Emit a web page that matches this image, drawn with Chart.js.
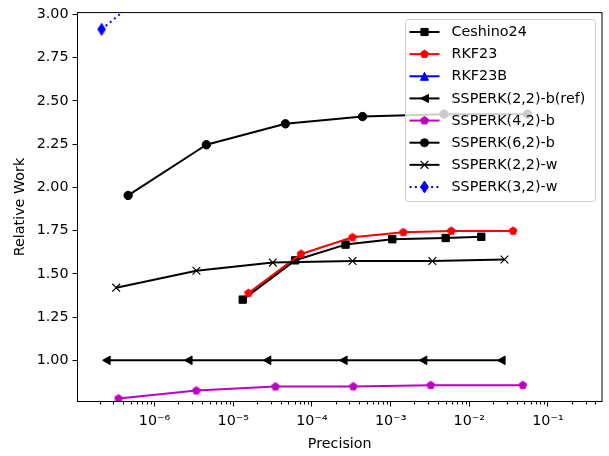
<!DOCTYPE html>
<html>
<head>
<meta charset="utf-8">
<script src="https://cdn.jsdelivr.net/npm/chart.js@4/dist/chart.umd.min.js"></script>
<style>
  html, body { margin: 0; padding: 0; background: #fff; }
  #wrap { width: 609px; height: 456px; position: relative; }
</style>
</head>
<body>
<div id="wrap"><canvas id="c" width="609" height="456"></canvas></div>
<script>
// Precision (x) against relative work (y) for each integrator
const ceshinoPrec = [1.32e-5, 6.11e-5, 2.67e-4, 1.05e-3, 5.01e-3, 1.42e-2];
const ceshinoWork = [1.351, 1.578, 1.669, 1.700, 1.707, 1.714];

const rkf23Prec = [1.56e-5, 7.28e-5, 3.28e-4, 1.45e-3, 5.90e-3, 3.60e-2];
const rkf23Work = [1.389, 1.615, 1.711, 1.740, 1.748, 1.748];

const rkf23bPrec = [];
const rkf23bWork = [];

const ssp22bPrec = [2.53e-7, 2.78e-6, 2.79e-5, 2.60e-4, 2.68e-3, 2.65e-2];
const ssp22bWork = [1.0, 1.0, 1.0, 1.0, 1.0, 1.0];

const ssp42bPrec = [3.48e-7, 3.40e-6, 3.44e-5, 3.35e-4, 3.24e-3, 4.78e-2];
const ssp42bWork = [0.779, 0.825, 0.848, 0.849, 0.856, 0.856];

const ssp62bPrec = [4.61e-7, 4.55e-6, 4.60e-5, 4.40e-4, 4.76e-3, 5.48e-2];
const ssp62bWork = [1.953, 2.246, 2.367, 2.409, 2.423, 2.423];

const ssp22wPrec = [3.25e-7, 3.40e-6, 3.18e-5, 3.28e-4, 3.39e-3, 2.80e-2];
const ssp22wWork = [1.420, 1.518, 1.565, 1.574, 1.574, 1.583];

const ssp32wPrec = [2.12e-7, 2.10e-6];
const ssp32wWork = [2.913, 3.290];

// Axis ticks
const xTickValues = [1e-6, 1e-5, 1e-4, 1e-3, 1e-2, 1e-1];
const xTickLabels = ['10\u207B\u2076', '10\u207B\u2075', '10\u207B\u2074', '10\u207B\u00B3', '10\u207B\u00B2', '10\u207B\u00B9'];
const yTickValues = [1.00, 1.25, 1.50, 1.75, 2.00, 2.25, 2.50, 2.75, 3.00];
const xMin = 1.047e-7, xMax = 0.486;
const yMin = 0.762, yMax = 3.01;

const FONT = 'DejaVu Sans';
const FSIZE = 14.3;

// Marker shapes shared by the plot points and the legend
function drawMarker(g, shape, x, y, color) {
  g.save();
  g.fillStyle = color;
  g.strokeStyle = color;
  g.lineWidth = 1;
  g.lineJoin = 'miter';
  g.beginPath();
  if (shape === 'square') {
    g.rect(x - 3.6, y - 3.6, 7.2, 7.2);
  } else if (shape === 'pentagon') {
    for (let k = 0; k < 5; k++) {
      const a = -Math.PI / 2 + k * 2 * Math.PI / 5;
      const px = x + 4.1 * Math.cos(a), py = y + 4.1 * Math.sin(a);
      k ? g.lineTo(px, py) : g.moveTo(px, py);
    }
    g.closePath();
  } else if (shape === 'triUp') {
    g.moveTo(x, y - 4); g.lineTo(x - 4, y + 4); g.lineTo(x + 4, y + 4); g.closePath();
  } else if (shape === 'triLeft') {
    g.moveTo(x - 4, y); g.lineTo(x + 4, y - 4); g.lineTo(x + 4, y + 4); g.closePath();
  } else if (shape === 'circle') {
    g.arc(x, y, 4, 0, Math.PI * 2);
  } else if (shape === 'x') {
    g.lineWidth = 1.2;
    g.moveTo(x - 3.9, y - 3.9); g.lineTo(x + 3.9, y + 3.9);
    g.moveTo(x - 3.9, y + 3.9); g.lineTo(x + 3.9, y - 3.9);
    g.stroke();
    g.restore();
    return;
  } else if (shape === 'thinDiamond') {
    g.moveTo(x, y - 6); g.lineTo(x + 3.8, y); g.lineTo(x, y + 6); g.lineTo(x - 3.8, y); g.closePath();
  }
  g.fill();
  g.stroke();
  g.restore();
}

function markerCanvas(shape, color) {
  const c = document.createElement('canvas');
  c.width = 16; c.height = 16;
  drawMarker(c.getContext('2d'), shape, 8, 8, color);
  return c;
}

const series = [
  { label: 'Ceshino24', xs: ceshinoPrec, ys: ceshinoWork, color: '#000000', marker: 'square',
    pointStyle: 'rect', radius: 5.2 },
  { label: 'RKF23', xs: rkf23Prec, ys: rkf23Work, color: '#ff0000', marker: 'pentagon',
    pointStyle: markerCanvas('pentagon', '#ff0000'), radius: 5 },
  { label: 'RKF23B', xs: rkf23bPrec, ys: rkf23bWork, color: '#0000ff', marker: 'triUp',
    pointStyle: markerCanvas('triUp', '#0000ff'), radius: 5 },
  { label: 'SSPERK(2,2)-b(ref)', xs: ssp22bPrec, ys: ssp22bWork, color: '#000000', marker: 'triLeft',
    pointStyle: 'triangle', rotation: 270, radius: 5 },
  { label: 'SSPERK(4,2)-b', xs: ssp42bPrec, ys: ssp42bWork, color: '#bf00bf', marker: 'pentagon',
    pointStyle: markerCanvas('pentagon', '#bf00bf'), radius: 5 },
  { label: 'SSPERK(6,2)-b', xs: ssp62bPrec, ys: ssp62bWork, color: '#000000', marker: 'circle',
    pointStyle: 'circle', radius: 4.2 },
  { label: 'SSPERK(2,2)-w', xs: ssp22wPrec, ys: ssp22wWork, color: '#000000', marker: 'x',
    pointStyle: 'crossRot', radius: 5.5, pbw: 1.2 },
  { label: 'SSPERK(3,2)-w', xs: ssp32wPrec, ys: ssp32wWork, color: '#0000ff', marker: 'thinDiamond',
    pointStyle: markerCanvas('thinDiamond', '#0000ff'), radius: 6, dash: [2, 3.4] }
];

const datasets = series.map((s, i) => ({
  label: s.label,
  data: s.xs.map((x, j) => ({ x: x, y: s.ys[j] })),
  borderColor: s.color,
  backgroundColor: s.color,
  borderWidth: 2,
  borderDash: s.dash || [],
  borderJoinStyle: 'round',
  pointStyle: s.pointStyle,
  pointRotation: s.rotation || 0,
  pointRadius: s.radius,
  pointBackgroundColor: s.color,
  pointBorderColor: s.color,
  pointBorderWidth: s.pbw || 1,
  pointHoverRadius: s.radius,
  fill: false,
  tension: 0,
  clip: 0,
  order: series.length - i
}));

// Axes frame and minor log ticks
const framePlugin = {
  id: 'frame',
  afterDatasetsDraw(chart) {
    const { ctx, chartArea: a, scales: { x } } = chart;
    ctx.save();
    ctx.strokeStyle = '#000';
    ctx.lineWidth = 1;
    ctx.beginPath();
    for (let e = -8; e <= 0; e++) {
      for (let m = 2; m <= 9; m++) {
        const v = m * Math.pow(10, e);
        if (v < x.min || v > x.max) continue;
        const px = Math.round(x.getPixelForValue(v)) + 0.5;
        ctx.moveTo(px, a.bottom);
        ctx.lineTo(px, a.bottom + 3);
      }
    }
    ctx.stroke();
    ctx.strokeRect(a.left, a.top, a.right - a.left, a.bottom - a.top);
    ctx.restore();
  }
};

// Legend box in the upper right of the plot area
const legendPlugin = {
  id: 'boxLegend',
  afterDraw(chart) {
    const { ctx, chartArea: a } = chart;
    const w = 190, h = 182;
    const left = Math.round(a.right - 7 - w) + 0.5;
    const top = Math.round(a.top + 6) + 0.5;
    ctx.save();
    ctx.beginPath();
    ctx.roundRect(left, top, w, h, 3);
    ctx.fillStyle = 'rgba(255,255,255,0.8)';
    ctx.fill();
    ctx.strokeStyle = '#cccccc';
    ctx.lineWidth = 1;
    ctx.stroke();
    ctx.font = FSIZE + 'px "' + FONT + '"';
    ctx.textBaseline = 'middle';
    ctx.textAlign = 'left';
    series.forEach((s, i) => {
      const cy = top + 12.5 + i * 22.14;
      ctx.save();
      ctx.strokeStyle = s.color;
      ctx.lineWidth = 2;
      ctx.setLineDash(s.dash || []);
      ctx.beginPath();
      ctx.moveTo(left + 4, cy);
      ctx.lineTo(left + 34, cy);
      ctx.stroke();
      ctx.restore();
      drawMarker(ctx, s.marker, left + 19, cy, s.color);
      ctx.fillStyle = '#000';
      ctx.fillText(s.label, left + 46, cy + 0.5);
    });
    ctx.restore();
  }
};

new Chart(document.getElementById('c'), {
  type: 'line',
  data: { datasets: datasets },
  options: {
    responsive: false,
    animation: false,
    devicePixelRatio: 1,
    events: [],
    layout: { padding: { left: 0, top: 11.5, right: 5.5, bottom: 0 } },
    plugins: { legend: { display: false }, tooltip: { enabled: false } },
    scales: {
      x: {
        type: 'logarithmic',
        min: xMin,
        max: xMax,
        afterBuildTicks: s => { s.ticks = xTickValues.map(v => ({ value: v })); },
        afterFit: s => { s.height = 54.5; },
        border: { display: false },
        grid: { display: true, drawOnChartArea: false, drawTicks: true, tickLength: 5, tickColor: '#000', tickWidth: 1 },
        ticks: {
          autoSkip: false, maxRotation: 0, minRotation: 0, padding: 6, color: '#000',
          font: { family: FONT, size: FSIZE },
          callback: (v, i) => xTickLabels[i]
        },
        title: { display: true, text: 'Precision', color: '#000', font: { family: FONT, size: FSIZE }, padding: { top: 0, bottom: 3.5 } }
      },
      y: {
        type: 'linear',
        min: yMin,
        max: yMax,
        afterBuildTicks: s => { s.ticks = yTickValues.map(v => ({ value: v })); },
        afterFit: s => { s.width = 77.5; },
        border: { display: false },
        grid: { display: true, drawOnChartArea: false, drawTicks: true, tickLength: 5, tickColor: '#000', tickWidth: 1 },
        ticks: {
          padding: 4, color: '#000',
          font: { family: FONT, size: FSIZE },
          callback: v => Number(v).toFixed(2)
        },
        title: { display: true, text: 'Relative Work', color: '#000', font: { family: FONT, size: FSIZE }, padding: { top: 11.5, bottom: 0 } }
      }
    }
  },
  plugins: [framePlugin, legendPlugin]
});
</script>
</body>
</html>
